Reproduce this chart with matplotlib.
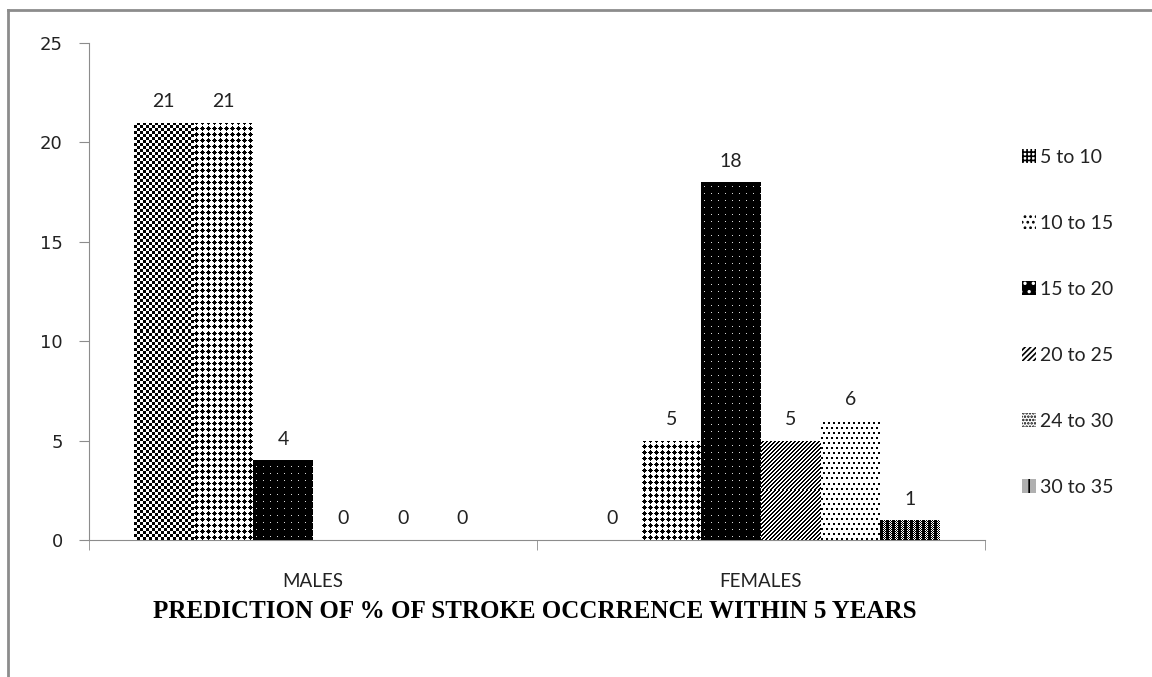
import numpy as np
import matplotlib.pyplot as plt
from matplotlib.lines import Line2D

categories = ['MALES', 'FEMALES']
series_labels = ['5 to 10', '10 to 15', '15 to 20', '20 to 25', '24 to 30', '30 to 35']
males = [21, 21, 4, 0, 0, 0]
females = [0, 5, 18, 5, 6, 1]
y_ticks = [0, 5, 10, 15, 20, 25]
title = 'PREDICTION OF % OF STROKE OCCRRENCE WITHIN 5 YEARS'

# face colour, hatch colour, hatch (used for the legend keys)
styles = [
    ('white', 'black', '++++'),
    ('white', 'black', '...'),
    ('black', 'white', '..'),
    ('white', 'black', '//////'),
    ('white', 'black', '.....'),
    ('#b0b0b0', 'black', '||'),
]


# pixel tiles for the Excel-like pattern fills (1 = black, 0 = white)
def make_tiles():
    i, j = np.indices((6, 6))
    checker = ((i // 3 + j // 3) % 2).astype(float)
    diamond = ((abs(i - 2) + abs(j - 2)) <= 2).astype(float)
    dots = np.ones((7, 7))
    dots[3, 3] = 0.15
    i4, j4 = np.indices((4, 4))
    diag = (((j4 - i4) % 4) < 2).astype(float)
    confetti = np.zeros((10, 5))
    confetti[0:2, 0:2] = 1
    confetti[5:7, 2:4] = 1
    i6, j6 = np.indices((6, 6))
    ladder = np.where(j6 % 6 < 3, 1.0, ((i6 + j6) % 2).astype(float))
    return [checker, diamond, dots, diag, confetti, ladder]


tiles = make_tiles()

plt.rcParams['font.family'] = ['Lato', 'DejaVu Sans']
plt.rcParams['hatch.linewidth'] = 1.2

fig = plt.figure(figsize=(11.52, 6.77), dpi=100)
ax = fig.add_axes([0.0773, 0.2024, 0.855 - 0.0773, 0.9365 - 0.2024])

x = np.arange(len(categories))
n = len(series_labels)
width = 0.8 / n
ax.set_xlim(-0.5, 1.5)
ax.set_ylim(0, 25)

all_bars = []
for i, lab in enumerate(series_labels):
    face, hcol, hatch = styles[i]
    vals = [males[i], females[i]]
    bars = ax.bar(x - 0.4 + width * (i + 0.5), vals, width, color=face,
                  edgecolor=hcol, linewidth=0, hatch=hatch, label=lab, zorder=2)
    ax.bar_label(bars, padding=9, fontsize=14, color='#222222')
    all_bars.append(bars)

# paint the pattern fills over the bars, one screen pixel per tile cell
for bars, tile in zip(all_bars, tiles):
    for bar in bars:
        h = bar.get_height()
        if h <= 0:
            continue
        x0, w = bar.get_x(), bar.get_width()
        p0 = ax.transData.transform((x0, 0))
        p1 = ax.transData.transform((x0 + w, h))
        nx = max(1, int(round(p1[0] - p0[0])))
        ny = max(1, int(round(p1[1] - p0[1])))
        th, tw = tile.shape
        img = np.tile(tile, (ny // th + 1, nx // tw + 1))[:ny, :nx]
        im = ax.imshow(img, cmap='gray_r', vmin=0, vmax=1, extent=[x0, x0 + w, 0, h],
                       origin='lower', interpolation='nearest', aspect='auto', zorder=3)
        im.set_clip_path(bar)
ax.set_xlim(-0.5, 1.5)
ax.set_ylim(0, 25)

for s in ['top', 'right']:
    ax.spines[s].set_visible(False)
for s in ['left', 'bottom']:
    ax.spines[s].set_color('#8c8c8c')

ax.set_yticks(y_ticks)
ax.tick_params(axis='y', colors='#8c8c8c', length=7, labelcolor='#222222',
               labelsize=13, pad=12)
for t in ax.get_yticklabels():
    t.set_family('DejaVu Sans')
ax.set_xticks(x)
ax.set_xticklabels(categories, fontsize=13.5, color='#222222')
ax.tick_params(axis='x', which='major', length=0, pad=24)
ax.set_xticks([-0.5, 0.5, 1.5], minor=True)
ax.tick_params(axis='x', which='minor', length=7, color='#8c8c8c')

fig.text(0.4645, 0.097, title, ha='center', va='center', fontsize=18,
         fontweight='bold', family='Liberation Serif')

ax.legend(loc='center left', bbox_to_anchor=(0.872, 0.524), bbox_transform=fig.transFigure,
          frameon=False, fontsize=14, handlelength=0.7, handleheight=0.7,
          handletextpad=0.2, labelspacing=2.52, labelcolor='#222222')

# chart border (top and left edges visible)
fig.add_artist(Line2D([8 / 1152, 1], [1 - 10 / 677, 1 - 10 / 677], color='#8c8c8c', lw=2))
fig.add_artist(Line2D([8 / 1152, 8 / 1152], [0, 1 - 10 / 677], color='#8c8c8c', lw=2))

fig.savefig('out.png', dpi=100)
